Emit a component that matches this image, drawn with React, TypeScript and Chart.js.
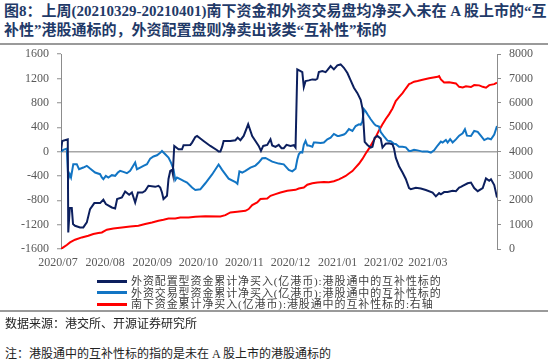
import React, { useEffect, useRef } from 'react';
import { Chart, registerables } from 'chart.js';

Chart.register(...registerables);

// x = trading-day index
const navyT = [0, 0.5, 2.7, 2.9, 3.5, 4.3, 4.8, 5.6, 7.6, 8.9, 10.3, 11.6, 13.3, 15.6, 16.9, 17.9, 20.3, 21.6, 22.4, 24.3, 25.6, 27.2, 28.3, 29.6, 30.7, 32.5, 33.6, 34.9, 37.6, 38.9, 39.6, 40.3, 40.9, 42.3, 42.9, 43.6, 44.3, 44.6, 45.2, 46.9, 48.3, 48.9, 51.6, 52.3, 53.6, 54.3, 56.9, 59.6, 62.3, 62.9, 63.6, 64.3, 64.9, 67.6, 69.6, 70.5, 71.6, 72.9, 74.7, 76.3, 77.6, 78.9, 79.8, 80.7, 82.3, 83.6, 84.3, 85.6, 86.9, 88.0, 88.9, 90.0, 91.6, 92.9, 93.6, 94.3, 95.6, 96.3, 96.9, 97.6, 98.9, 100.3, 101.6, 102.3, 102.9, 104.3, 105.6, 106.3, 107.6, 108.9, 110.3, 111.6, 112.9, 114.3, 115.6, 116.9, 118.3, 119.6, 120.4, 121.2, 122.3, 123.6, 124.3, 125.2, 126.3, 127.6, 128.3, 129.6, 130.9, 132.3, 132.9, 133.6, 134.9, 136.3, 137.6, 138.9, 139.6, 141.6, 143.6, 145.6, 148.3, 149.6, 150.9, 151.6, 152.9, 154.3, 156.3, 157.6, 158.9, 159.6, 160.3, 162.3, 163.6, 164.9, 166.3, 168.3, 169.6, 170.9, 171.6, 172.9, 174];
const navyV = [10, 175, 203, -1327, -928, -928, -1190, -1218, -1245, -1245, -1163, -944, -846, -846, -791, -862, -918, -934, -780, -754, -656, -710, -672, -836, -672, -672, -644, -562, -579, -562, -590, -672, -780, -726, -450, -316, -300, -360, 93, 39, 39, 105, 110, 148, 241, 257, 175, 93, 23, 0, 0, 77, 175, 175, 187, 230, 187, 257, 449, 257, 175, 93, 11, 93, 110, 203, 100, 77, 110, 56, 56, 110, 93, 105, 66, 1351, 1323, 1306, 1060, 1159, 1170, 1186, 1180, 1197, 1306, 1323, 1306, 1339, 1405, 1351, 1416, 1432, 1377, 1290, 1170, 1049, 960, 850, 690, 160, 110, 66, 80, 230, 257, 213, 66, 130, 138, 120, 50, -100, -240, -344, -450, -600, -617, -595, -605, -630, -672, -735, -680, -700, -665, -665, -645, -650, -590, -579, -562, -520, -508, -600, -650, -600, -440, -480, -455, -550, -754];

const blueT = [0, 0.9, 2.3, 2.9, 3.5, 4.0, 4.9, 6.3, 7.2, 8.9, 10.3, 11.6, 13.6, 15.6, 16.3, 16.9, 17.9, 18.9, 20.3, 21.6, 22.7, 23.6, 24.9, 26.3, 27.6, 29.6, 30.3, 31.6, 32.9, 34.3, 35.6, 36.9, 38.3, 39.6, 40.3, 41.6, 42.9, 43.9, 44.9, 45.6, 46.3, 47.6, 48.9, 50.3, 52.3, 53.6, 55.6, 57.6, 60.3, 62.9, 64.3, 66.9, 69.6, 70.4, 71.2, 72.3, 73.6, 75.6, 77.6, 78.9, 80.3, 81.6, 84.3, 86.9, 88.9, 90.9, 92.3, 93.6, 94.3, 94.9, 95.6, 96.3, 96.9, 97.6, 98.3, 98.9, 100.3, 100.9, 101.6, 103.6, 104.9, 106.3, 107.6, 108.9, 110.3, 110.9, 112.9, 113.6, 114.9, 116.3, 117.6, 118.9, 119.6, 120.3, 120.9, 121.6, 122.5, 123.6, 124.9, 125.6, 126.9, 127.6, 128.9, 130.3, 131.6, 132.9, 133.6, 134.9, 136.3, 137.6, 138.9, 139.6, 140.9, 142.3, 144.3, 146.3, 147.6, 148.9, 150.3, 151.6, 152.3, 153.6, 154.3, 155.3, 156.3, 157.6, 158.9, 160.3, 161.2, 162.0, 163.6, 164.9, 166.3, 167.6, 168.9, 170.3, 171.6, 172.9, 174];
const blueV = [0, 28, 49, -452, -371, -426, -207, -207, -289, -262, -234, -279, -344, -371, -426, -452, -398, -426, -387, -398, -344, -316, -333, -355, -316, -180, -289, -262, -234, -207, -115, -80, -60, -20, 11, -43, -98, -180, -289, -469, -426, -452, -480, -508, -590, -630, -620, -520, -375, -212, -300, -444, -500, -530, -325, -344, -316, -262, -230, -180, -110, -105, -165, -197, -210, -300, -325, -280, -130, -43, -10, -16, 110, 175, 100, 100, 80, 148, 148, 140, 150, 203, 230, 290, 257, 257, 280, 301, 370, 339, 420, 449, 440, 495, 695, 660, 600, 531, 460, 430, 410, 320, 250, 180, 170, 130, 125, 80, 80, 70, 11, 11, 30, 20, 0, 0, -16, 20, 100, 165, 148, 190, 148, 203, 150, 200, 262, 300, 367, 262, 257, 339, 325, 257, 190, 219, 203, 280, 420];

const redT = [0, 0.9, 2.3, 3.6, 5.6, 8.3, 10.9, 12.9, 14.9, 16.3, 18.3, 20.9, 24.3, 27.6, 30.9, 33.6, 36.3, 38.9, 40.9, 42.9, 45.6, 47.6, 50.9, 53.6, 57.6, 63.6, 65.6, 67.6, 70.3, 73.6, 74.9, 76.3, 78.3, 79.6, 82.3, 83.6, 85.6, 87.6, 90.3, 93.6, 94.9, 96.9, 98.3, 100.3, 102.3, 104.9, 106.9, 108.9, 110.9, 112.3, 113.6, 114.9, 116.3, 117.6, 118.9, 120.3, 121.6, 122.9, 124.3, 125.6, 126.9, 128.3, 129.6, 130.9, 132.3, 133.6, 134.9, 136.3, 137.6, 138.9, 139.6, 140.9, 142.3, 144.3, 146.9, 150.3, 150.9, 151.6, 152.9, 154.9, 157.6, 158.9, 160.3, 161.6, 163.6, 164.9, 166.9, 168.3, 169.6, 170.9, 172.9, 174];
const redV = [0, 66, 164, 271, 381, 476, 545, 615, 656, 681, 791, 845, 886, 927, 955, 1025, 1090, 1160, 1201, 1254, 1254, 1295, 1295, 1320, 1340, 1336, 1390, 1500, 1529, 1570, 1640, 1805, 1910, 2050, 2074, 2185, 2254, 2320, 2390, 2430, 2484, 2525, 2640, 2700, 2730, 2750, 2740, 2780, 2860, 2930, 3000, 3100, 3200, 3350, 3500, 3700, 3920, 4120, 4370, 4600, 4870, 5120, 5340, 5530, 5770, 6078, 6240, 6400, 6590, 6770, 6800, 6870, 6900, 6950, 7008, 7070, 7100, 6967, 6840, 6850, 6800, 6660, 6630, 6680, 6650, 6730, 6720, 6660, 6623, 6730, 6770, 6828];

const xTickPos = [0, 18.8, 37.6, 56, 74.4, 92.8, 111.6, 130, 147.6];
const xTickLabels = ['2020/07', '2020/08', '2020/09', '2020/10', '2020/11', '2020/12', '2021/01', '2021/02', '2021/03'];

const seriesNames = [
  '外资配置型资金累计净买入(亿港币):港股通中的互补性标的',
  '外资交易型资金累计净买入(亿港币):港股通中的互补性标的',
  '南下资金累计净买入(亿港币):港股通中的互补性标的:右轴',
];
const seriesColors = ['#0c1f5e', '#1275c4', '#ff0000'];

const titleLine1 = '图8：上周(20210329-20210401)南下资金和外资交易盘均净买入未在 A 股上市的“互';
const titleLine2 = '补性”港股通标的，外资配置盘则净卖出该类“互补性”标的';
const sourceText = '数据来源：港交所、开源证券研究所';
const noteText = '注：港股通中的互补性标的指的是未在 A 股上市的港股通标的';

const serif = "'Liberation Serif', 'Times New Roman', 'Noto Sans CJK SC', serif";

function pts(t: number[], v: number[]) {
  return t.map((x, i) => ({ x, y: v[i] }));
}

export default function App() {
  const ref = useRef<HTMLCanvasElement | null>(null);

  useEffect(() => {
    if (!ref.current) return;
    const tickFont = { family: "'Liberation Serif', 'Times New Roman', serif", size: 12 };
    const tickColor = '#595959';
    const axisColor = '#8c8c8c';
    const plain = (v: any) => String(v);
    const chart = new Chart(ref.current, {
      type: 'line',
      data: {
        datasets: [
          { label: seriesNames[0], data: pts(navyT, navyV), borderColor: seriesColors[0], backgroundColor: seriesColors[0], borderWidth: 2, pointRadius: 0, tension: 0, yAxisID: 'y' },
          { label: seriesNames[1], data: pts(blueT, blueV), borderColor: seriesColors[1], backgroundColor: seriesColors[1], borderWidth: 2, pointRadius: 0, tension: 0, yAxisID: 'y' },
          { label: seriesNames[2], data: pts(redT, redV), borderColor: seriesColors[2], backgroundColor: seriesColors[2], borderWidth: 2, pointRadius: 0, tension: 0, yAxisID: 'y2' },
        ],
      },
      options: {
        animation: false,
        responsive: false,
        layout: { padding: { top: 1, left: 0, right: 0, bottom: 0 } },
        plugins: { legend: { display: false }, tooltip: { enabled: false } },
        scales: {
          x: {
            type: 'linear',
            min: 0,
            max: 174,
            afterBuildTicks: (s: any) => {
              s.ticks = xTickPos.map((v) => ({ value: v }));
            },
            afterFit: (s: any) => {
              s.height = 26;
            },
            ticks: {
              autoSkip: false,
              maxRotation: 0,
              minRotation: 0,
              labelOffset: -3,
              padding: 7,
              color: tickColor,
              font: tickFont,
              callback: (_v: any, i: number) => xTickLabels[i],
            },
            grid: { display: false, drawTicks: false },
            border: { display: false },
          },
          y: {
            position: 'left',
            min: -1600,
            max: 1600,
            afterFit: (s: any) => {
              s.width = 61;
            },
            ticks: { stepSize: 400, padding: 8, color: tickColor, font: tickFont, callback: plain },
            grid: {
              color: (c: any) => (c.tick && c.tick.value === 0 ? '#a6a6a6' : 'rgba(0,0,0,0)'),
              lineWidth: 1.5,
              drawTicks: true,
              tickLength: 4,
              tickColor: axisColor,
              tickWidth: 1,
            },
            border: { display: true, color: axisColor, width: 1 },
          },
          y2: {
            position: 'right',
            min: 0,
            max: 8000,
            afterFit: (s: any) => {
              s.width = 53;
            },
            ticks: { stepSize: 1000, padding: 8, color: tickColor, font: tickFont, callback: plain },
            grid: { drawOnChartArea: false, drawTicks: true, tickLength: 4, tickColor: axisColor, tickWidth: 1 },
            border: { display: true, color: axisColor, width: 1 },
          },
        },
      },
    } as any);
    return () => chart.destroy();
  }, []);

  const legendRows = [281, 292.5, 304];

  return (
    <div style={{ position: 'absolute', left: 0, top: 0, width: 550, height: 364, background: '#fff', overflow: 'hidden', fontFamily: serif }}>
      <div style={{ position: 'absolute', left: 4, top: 2, fontSize: 15, fontWeight: 'bold', color: '#1f3a68', lineHeight: '19px', whiteSpace: 'nowrap' }}>
        <div>{titleLine1}</div>
        <div>{titleLine2}</div>
      </div>
      <div style={{ position: 'absolute', left: 0, top: 43, width: 548, height: 1.5, background: '#9a9a9a' }} />
      <canvas ref={ref} width={550} height={236} style={{ position: 'absolute', left: 0, top: 39, width: 550, height: 236 }} />
      {seriesNames.map((name, i) => (
        <div key={i} style={{ position: 'absolute', left: 97, top: legendRows[i] - 6, height: 12, display: 'flex', alignItems: 'center', whiteSpace: 'nowrap' }}>
          <div style={{ width: 30, height: 3, background: seriesColors[i], marginRight: 4 }} />
          <span style={{ fontSize: 11, letterSpacing: '0.9px', color: '#404040', lineHeight: '12px' }}>{name}</span>
        </div>
      ))}
      <div style={{ position: 'absolute', left: 0, top: 310, width: 548, height: 1.5, background: '#9a9a9a' }} />
      <div style={{ position: 'absolute', left: 5, top: 317, fontSize: 12, color: '#222', lineHeight: '14px', whiteSpace: 'nowrap' }}>{sourceText}</div>
      <div style={{ position: 'absolute', left: 5, top: 347, fontSize: 12, color: '#222', lineHeight: '14px', whiteSpace: 'nowrap' }}>{noteText}</div>
    </div>
  );
}
